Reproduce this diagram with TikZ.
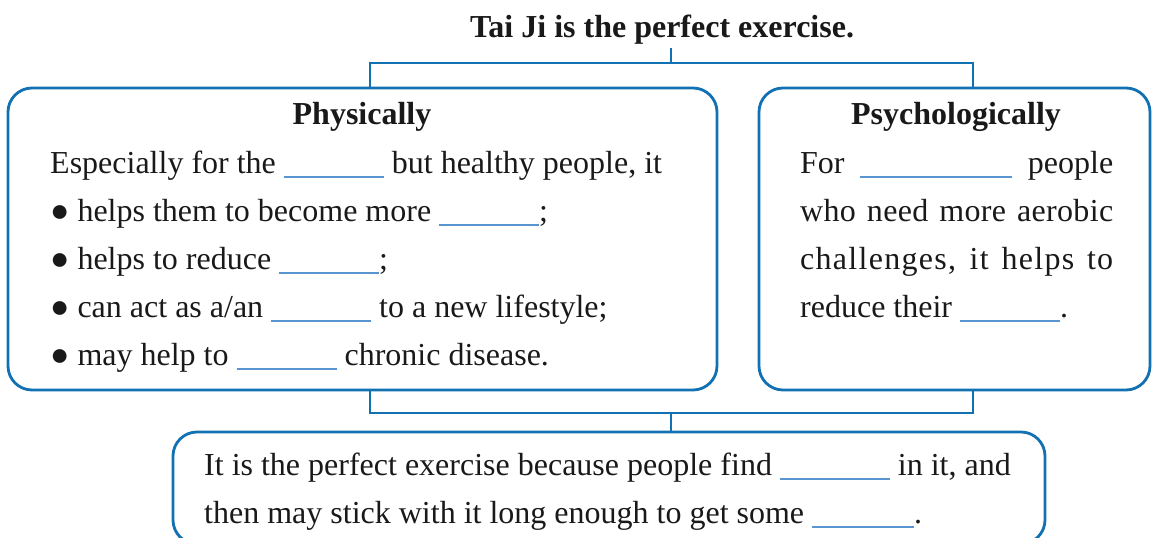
\documentclass[tikz,border=0pt]{standalone}
\usepackage{fontspec}
\setmainfont{Liberation Serif}
\usetikzlibrary{positioning,calc}
\definecolor{tjblue}{RGB}{18,113,178}
\definecolor{gapblue}{RGB}{88,148,206}
\newcommand{\gap}[1]{\textcolor{gapblue}{\rule[-5pt]{#1pt}{2pt}}}
\newcommand{\bodyfont}{\fontsize{32}{48}\selectfont}
\begin{document}
\begin{tikzpicture}[x=1pt,y=-1pt,
  box/.style={draw=tjblue,line width=2.8pt,rounded corners=24pt,inner sep=0pt},
  link/.style={draw=tjblue,line width=2.8pt},
  txt/.style={anchor=base west,inner sep=0pt,font=\bodyfont,text=black!90},
  head/.style={anchor=base,inner sep=0pt,font=\bodyfont\bfseries,text=black!90}
]
\useasboundingbox (0,0) rectangle (1152,538);

%% -- title --------------------------------------------------------------------
\node[head] (title) at (662,37) {Tai Ji is the perfect exercise.};

%% -- the three boxes ----------------------------------------------------------
\node[box,minimum width=709pt,minimum height=302pt] (phys) at (362.5,239) {};
\node[box,minimum width=391pt,minimum height=302pt] (psy)  at (954.5,239) {};
\node[box,minimum width=872pt,minimum height=112pt] (res)  at (609,488)   {};

%% -- Physically ---------------------------------------------------------------
\node[head] (physh) at (362,124) {Physically};
\node[txt] (ph1) at (50,173) {Especially for the \gap{100} but healthy people, it};
\node[txt] (ph2) at (50,221) {● helps them to become more \gap{100};};
\node[txt] (ph3) at (50,269) {● helps to reduce \gap{100};};
\node[txt] (ph4) at (50,317) {● can act as a/an \gap{100} to a new lifestyle;};
\node[txt] (ph5) at (50,365) {● may help to \gap{100} chronic disease.};

%% -- Psychologically (lines stretched to the same width) ----------------------
\node[head] (psyh) at (956,124) {Psychologically};
\node[txt] (ps1) at (800,173) {\makebox[313pt][s]{For \gap{152} people}};
\node[txt] (ps2) at (800,221) {\makebox[313pt][s]{\addfontfeature{LetterSpace=1}who need more aerobic}};
\node[txt] (ps3) at (800,269) {\makebox[313pt][s]{\addfontfeature{LetterSpace=4}challenges, it helps to}};
\node[txt] (ps4) at (800,317) {reduce their \gap{100}.};

%% -- result -------------------------------------------------------------------
\node[txt] (rs1) at (204,475) {It is the perfect exercise because people find \gap{110} in it, and};
\node[txt] (rs2) at (204,523) {then may stick with it long enough to get some \gap{102}.};

%% -- upper bracket ------------------------------------------------------------
\coordinate (tj) at (671,48);
\coordinate (uL) at (370,63);
\coordinate (uR) at (973,63);
\draw[link] (tj) -- (tj |- uL);
\draw[link] (uL |- phys.north) -- (uL) -- (uR) -- (uR |- psy.north);

%% -- lower bracket ------------------------------------------------------------
\coordinate (dL) at (370,413);
\coordinate (dR) at (973,413);
\coordinate (dM) at (671,413);
\draw[link] (dL |- phys.south) -- (dL) -- (dR) -- (dR |- psy.south);
\draw[link] (dM) -- (dM |- res.north);
\end{tikzpicture}
\end{document}
